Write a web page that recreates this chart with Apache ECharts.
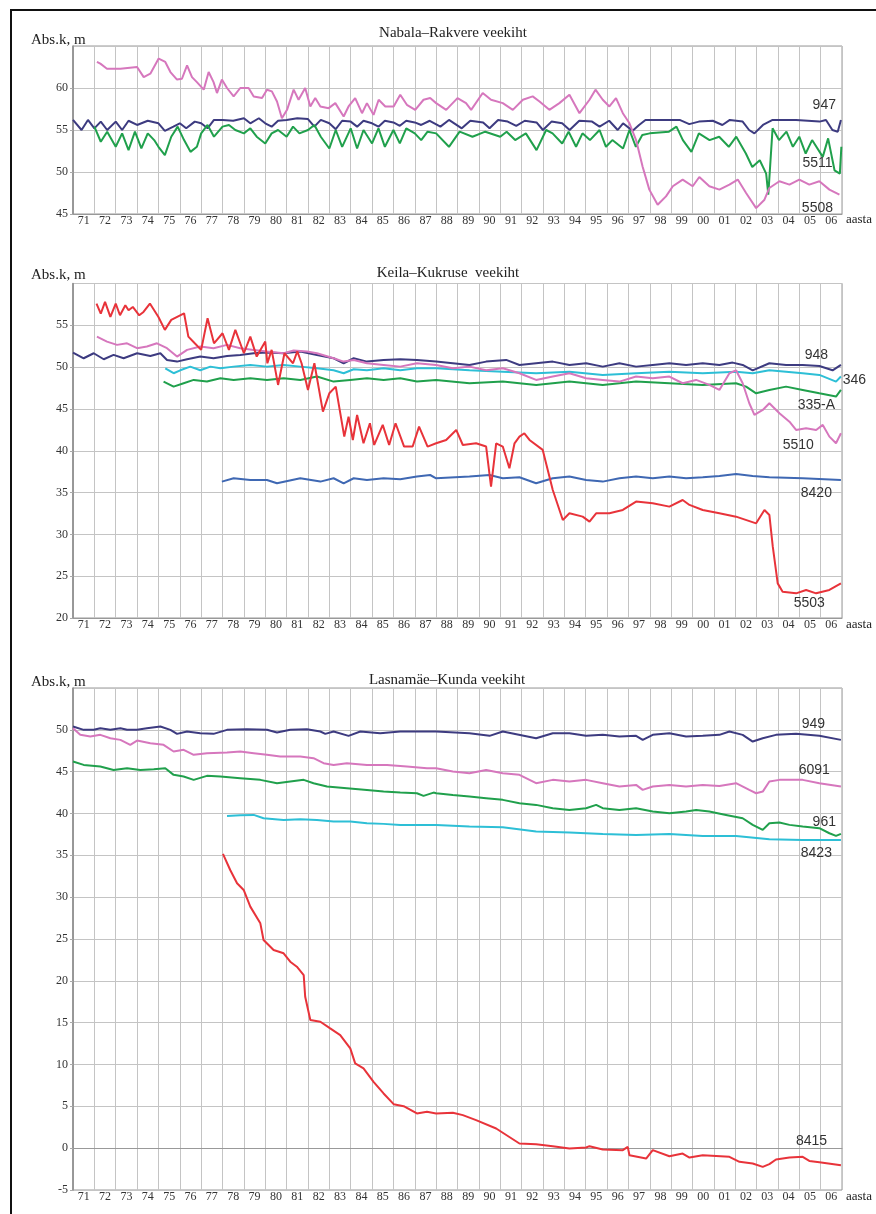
<!DOCTYPE html>
<html><head><meta charset="utf-8">
<script src="https://cdn.jsdelivr.net/npm/echarts@6/dist/echarts.min.js"></script>
<style>
html,body{margin:0;padding:0;background:#fff;overflow:hidden;}
#chart{position:absolute;left:0;top:0;width:876px;height:1214px;}
#frame{position:absolute;left:10px;top:9px;width:900px;height:1300px;border:2px solid #111;pointer-events:none;}
</style></head><body>
<div id="chart"></div><div id="frame"></div>
<script>
// ---------- tick labels ----------
const yearLabels = ['71','72','73','74','75','76','77','78','79','80','81','82','83','84','85','86','87','88','89','90','91','92','93','94','95','96','97','98','99','00','01','02','03','04','05','06'];
const titles = ['Nabala–Rakvere veekiht', 'Keila–Kukruse  veekiht', 'Lasnamäe–Kunda veekiht'];

// ---------- Panel 1: Nabala–Rakvere ----------
const s947 = [[1971.0,56.2],[1971.4,55.0],[1971.7,56.2],[1972.0,55.2],[1972.3,56.0],[1972.6,55.0],[1973.0,56.0],[1973.3,55.0],[1973.6,56.1],[1974.0,55.6],[1974.5,56.1],[1975.0,55.8],[1975.3,54.9],[1975.7,55.4],[1976.0,55.8],[1976.3,55.2],[1976.7,56.0],[1977.0,55.8],[1977.3,55.2],[1977.6,56.2],[1978.0,56.2],[1978.5,56.1],[1979.0,56.4],[1979.3,55.8],[1979.7,56.4],[1980.0,55.8],[1980.3,55.4],[1980.6,56.1],[1981.0,56.2],[1981.5,56.4],[1982.0,56.3],[1982.3,55.4],[1982.6,56.2],[1983.0,55.8],[1983.3,55.1],[1983.6,56.1],[1984.0,56.0],[1984.3,55.4],[1984.6,56.1],[1985.0,55.8],[1985.3,55.4],[1985.6,56.1],[1986.0,55.9],[1986.3,55.5],[1986.6,56.1],[1987.0,55.9],[1987.3,55.6],[1987.7,56.1],
[1988.2,55.4],[1988.6,56.2],[1989.2,55.2],[1989.6,56.1],[1990.2,55.9],[1990.5,55.2],[1990.9,56.2],[1991.35,56.0],[1991.75,55.5],[1992.15,56.1],[1992.7,55.9],[1993.0,55.0],[1993.4,56.0],[1993.9,55.8],[1994.25,55.0],[1994.7,56.1],[1995.3,56.0],[1995.65,55.4],[1996.1,56.1],[1996.5,55.0],[1996.75,55.8],[1997.2,54.9],[1997.5,55.6],[1997.8,56.2],[1998.9,56.2],[1999.4,56.2],[1999.85,55.7],[2000.3,56.0],[2000.95,56.1],[2001.4,55.6],[2001.75,56.2],[2002.35,56.0],[2002.65,55.0],[2002.9,54.6],[2003.3,55.6],[2003.75,56.2],[2004.85,56.2],[2005.95,56.0],[2006.25,56.2],[2006.55,55.0],[2006.8,54.8],[2006.95,56.2]];
const s5511 = [[1972.0,55.4],[1972.3,53.6],[1972.6,54.8],[1973.0,53.0],[1973.3,54.6],[1973.6,52.6],[1973.9,54.8],[1974.2,52.8],[1974.5,54.6],[1974.8,53.8],[1975.0,53.0],[1975.3,52.0],[1975.6,54.2],[1975.9,55.4],[1976.2,53.8],[1976.5,52.4],[1976.8,53.0],[1977.0,54.6],[1977.3,55.6],[1977.6,54.2],[1978.0,55.4],[1978.3,55.6],[1978.6,55.0],[1979.0,54.6],[1979.3,55.2],[1979.6,54.2],[1980.0,53.4],[1980.3,54.6],[1980.6,55.0],[1981.0,54.2],[1981.3,55.4],[1981.6,54.6],[1982.0,55.0],[1982.3,55.6],[1982.6,54.2],[1983.0,52.8],[1983.3,55.0],[1983.6,53.0],[1984.0,55.2],[1984.3,52.8],[1984.6,55.0],[1985.0,53.4],[1985.3,55.2],[1985.6,53.0],[1986.0,55.0],[1986.3,53.4],[1986.6,55.2],[1987.0,54.6],[1987.3,53.8],[1987.6,54.8],
[1988.0,54.6],[1988.6,53.0],[1989.1,54.8],[1989.7,54.2],[1990.3,54.8],[1991.0,54.2],[1991.3,54.8],[1991.7,53.8],[1992.2,54.6],[1992.7,52.6],[1993.15,55.0],[1993.45,54.6],[1993.9,53.4],[1994.2,54.8],[1994.55,53.0],[1994.85,54.6],[1995.2,53.8],[1995.65,55.0],[1995.95,53.0],[1996.25,53.8],[1996.75,52.8],[1997.05,55.0],[1997.35,53.0],[1997.65,54.4],[1998.0,54.6],[1998.9,54.8],[1999.25,55.4],[1999.55,53.8],[1999.95,52.4],[2000.3,54.6],[2000.8,53.8],[2001.25,54.2],[2001.7,53.0],[2002.05,54.2],[2002.5,52.2],[2002.8,50.6],[2003.15,51.4],[2003.45,49.8],[2003.55,47.3],[2003.75,55.2],[2004.05,53.8],[2004.4,54.8],[2004.7,53.0],[2005.0,54.2],[2005.3,52.2],[2005.6,53.8],[2006.1,51.8],[2006.35,54.0],[2006.65,50.2],[2006.9,49.8],[2006.97,53.0]];
const s5508 = [[1972.12,63.1],[1972.28,62.9],[1972.59,62.3],[1973.22,62.3],[1974.0,62.5],[1974.31,61.3],[1974.62,61.7],[1975.01,63.5],[1975.32,63.1],[1975.56,61.9],[1975.87,61.0],[1976.1,61.1],[1976.34,62.7],[1976.57,61.3],[1976.8,60.7],[1977.12,59.8],[1977.35,61.9],[1977.58,60.7],[1977.74,59.4],[1977.97,61.0],[1978.21,60.0],[1978.52,59.0],[1978.83,60.0],[1979.22,60.0],[1979.46,59.0],[1979.85,58.8],[1980.08,59.8],[1980.31,59.6],[1980.55,58.4],[1980.78,56.4],[1981.02,57.4],[1981.33,59.8],[1981.56,58.6],[1981.87,60.0],[1982.11,57.8],[1982.34,58.8],[1982.58,57.8],[1982.97,57.6],[1983.28,58.2],[1983.67,56.6],[1983.9,57.8],[1984.21,58.8],[1984.53,57.0],[1984.76,58.2],[1985.07,56.8],[1985.31,58.6],[1985.62,57.8],[1986.01,57.8],[1986.32,59.2],[1986.63,58.0],[1987.02,57.4],[1987.41,58.6],[1987.72,58.8],
[1988.0,58.2],[1988.47,57.4],[1989.0,58.8],[1989.4,58.2],[1989.64,57.4],[1990.18,59.4],[1990.57,58.6],[1991.12,58.2],[1991.59,57.4],[1992.06,58.6],[1992.52,59.0],[1992.84,58.4],[1993.3,57.4],[1993.77,58.2],[1994.24,59.2],[1994.71,57.0],[1995.18,58.6],[1995.46,59.8],[1995.8,58.6],[1996.11,57.8],[1996.42,58.8],[1996.74,57.0],[1997.05,55.8],[1997.36,53.8],[1997.67,50.6],[1997.98,47.9],[1998.37,46.1],[1998.76,47.1],[1999.08,48.3],[1999.54,49.1],[2000.01,48.3],[2000.32,49.4],[2000.79,48.3],[2001.26,47.9],[2001.73,48.5],[2002.12,49.1],[2002.51,47.5],[2002.98,45.7],[2003.37,46.7],[2003.6,48.1],[2004.07,48.9],[2004.54,48.5],[2005.0,49.1],[2005.47,48.5],[2005.94,48.9],[2006.41,47.9],[2006.88,47.3]];

// ---------- Panel 2: Keila–Kukruse ----------
const s948 = [[1971.0,51.74],[1971.5,51.06],[1971.97,51.66],[1972.44,50.94],[1972.9,51.46],[1973.37,51.06],[1974.0,51.66],[1974.62,51.34],[1975.09,51.66],[1975.4,50.86],[1975.87,50.66],[1976.34,50.94],[1976.96,51.26],[1977.58,51.06],[1978.21,51.34],[1978.83,51.46],[1979.46,51.66],[1980.08,51.74],[1980.86,51.66],[1981.64,51.86],[1982.42,51.46],[1983.2,51.06],[1983.67,50.46],[1984.14,51.06],[1984.76,50.66],[1985.54,50.86],[1986.32,50.94],[1987.1,50.86],[1988.0,50.66],[1988.78,50.46],[1989.56,50.26],[1990.34,50.66],[1991.28,50.86],[1991.9,50.26],[1992.68,50.46],[1993.46,50.66],[1994.24,50.26],[1995.02,50.46],[1995.8,50.06],[1996.58,50.46],[1997.36,50.06],[1998.14,50.26],[1998.92,50.46],[1999.7,50.26],[2000.48,50.46],[2001.26,50.26],[2001.88,50.54],[2002.35,50.26],[2002.82,49.62],[2003.6,50.46],[2004.38,50.26],[2005.16,50.26],[2005.94,50.14],[2006.56,49.62],[2006.95,50.26]];
const s346 = [[1975.32,49.86],[1975.71,49.27],[1976.02,49.62],[1976.49,50.06],[1976.96,49.62],[1977.43,50.06],[1977.9,49.86],[1978.52,50.06],[1979.3,50.26],[1980.08,50.06],[1980.86,50.26],[1981.64,50.06],[1982.42,49.86],[1983.2,49.62],[1983.67,49.27],[1984.14,49.74],[1984.76,49.62],[1985.54,49.86],[1986.32,49.62],[1987.1,49.86],[1988.0,49.86],[1989.56,49.62],[1991.12,49.46],[1992.68,49.27],[1994.24,49.46],[1995.8,49.07],[1997.36,49.27],[1998.92,49.46],[2000.48,49.27],[2002.04,49.46],[2002.82,49.27],[2003.6,49.62],[2005.16,49.27],[2005.94,49.07],[2006.72,48.27],[2006.95,48.87]];
const s335A = [[1975.24,48.27],[1975.71,47.67],[1976.18,48.07],[1976.65,48.47],[1977.27,48.27],[1977.9,48.67],[1978.52,48.47],[1979.3,48.67],[1980.08,48.47],[1980.86,48.67],[1981.64,48.47],[1982.42,48.87],[1983.2,48.27],[1983.98,48.47],[1984.76,48.67],[1985.54,48.47],[1986.32,48.67],[1987.1,48.27],[1988.0,48.47],[1989.56,48.07],[1991.12,48.27],[1992.68,47.87],[1994.24,48.27],[1995.8,47.87],[1997.36,48.27],[1998.92,48.07],[2000.48,47.87],[2002.04,48.07],[2002.51,47.67],[2002.98,46.87],[2003.6,47.27],[2004.38,47.67],[2005.16,47.27],[2005.94,46.87],[2006.72,46.48],[2006.95,47.27]];
const s5510 = [[1972.12,53.65],[1972.59,53.05],[1973.06,52.66],[1973.53,52.85],[1974.0,52.26],[1974.46,52.46],[1974.93,52.85],[1975.4,52.26],[1975.87,51.26],[1976.34,52.06],[1976.96,52.46],[1977.58,52.26],[1978.21,52.66],[1978.83,52.26],[1979.46,52.06],[1980.08,51.86],[1980.86,51.66],[1981.33,51.98],[1981.95,51.86],[1982.42,51.66],[1983.2,51.06],[1983.67,50.66],[1984.14,50.86],[1984.76,50.46],[1985.54,50.26],[1986.32,50.06],[1987.1,50.46],[1988.0,50.26],[1988.78,49.86],[1989.56,50.06],[1990.34,49.62],[1991.12,49.86],[1991.9,49.27],[1992.68,48.47],[1993.46,48.87],[1994.24,49.27],[1995.02,48.67],[1995.8,48.47],[1996.58,48.27],[1997.36,48.87],[1998.14,48.67],[1998.92,48.87],[1999.54,48.07],[2000.17,48.47],[2000.79,47.87],[2001.26,47.27],[2001.73,49.27],[2002.04,49.62],[2002.35,48.07],[2002.66,45.68],[2002.9,44.28],[2003.29,44.88],[2003.6,45.68],[2004.07,44.48],[2004.54,43.48],[2004.85,42.49],[2005.32,42.69],[2005.79,42.49],[2006.1,43.09],[2006.41,41.69],[2006.72,40.89],[2006.95,42.09]];
const s8420 = [[1977.97,36.31],[1978.52,36.71],[1979.3,36.51],[1980.08,36.51],[1980.55,36.11],[1981.64,36.71],[1982.58,36.31],[1983.2,36.71],[1983.67,36.11],[1984.14,36.71],[1984.76,36.51],[1985.54,36.71],[1986.32,36.59],[1987.1,36.91],[1987.72,37.1],[1988.0,36.71],[1989.56,36.91],[1990.5,37.1],[1991.12,36.71],[1991.9,36.83],[1992.68,36.11],[1993.46,36.71],[1994.24,36.91],[1995.02,36.51],[1995.8,36.31],[1996.58,36.71],[1997.36,36.91],[1998.14,36.71],[1998.92,36.91],[1999.7,36.71],[2000.48,36.83],[2001.26,36.99],[2002.04,37.22],[2002.82,36.99],[2003.6,36.83],[2005.16,36.71],[2006.95,36.51]];
const s5503 = [[1972.1,57.6],[1972.3,56.4],[1972.5,57.8],[1972.75,56.0],[1973.0,57.6],[1973.2,56.2],[1973.45,57.4],[1973.6,56.8],[1973.8,57.2],[1974.1,56.2],[1974.3,56.6],[1974.6,57.6],[1975.0,56.0],[1975.3,54.45],[1975.6,55.65],[1976.2,56.44],[1976.4,53.65],[1976.7,52.85],[1977.0,52.06],[1977.3,55.85],[1977.6,52.85],[1978.0,54.05],[1978.3,52.06],[1978.6,54.45],[1979.0,51.66],[1979.3,53.65],[1979.6,51.26],[1980.0,53.05],[1980.1,50.46],[1980.3,52.06],[1980.6,47.87],[1980.9,51.66],[1981.3,50.46],[1981.5,51.9],[1981.7,50.46],[1982.0,47.27],[1982.3,50.46],[1982.7,44.68],[1983.0,46.87],[1983.3,47.67],[1983.7,41.69],[1983.9,44.08],[1984.1,41.29],[1984.3,44.28],[1984.6,40.89],[1984.9,43.29],[1985.1,40.69],[1985.5,43.09],[1985.8,40.69],[1986.1,43.29],[1986.5,40.5],[1986.9,40.5],[1987.2,42.89],[1987.6,40.5],[1988.0,40.89],[1988.47,41.29],[1988.94,42.49],[1989.25,40.69],[1989.87,40.89],[1990.34,40.5],[1990.57,35.71],[1990.81,40.89],[1991.12,40.5],[1991.43,37.9],[1991.67,40.89],[1991.9,41.69],[1992.13,42.09],[1992.37,41.29],[1992.99,40.1],[1993.46,35.31],[1993.93,31.72],[1994.24,32.52],[1994.86,32.12],[1995.18,31.52],[1995.49,32.52],[1996.11,32.52],[1996.74,32.92],[1997.36,33.92],[1998.14,33.72],[1998.92,33.32],[1999.54,34.11],[1999.86,33.52],[2000.48,32.92],[2001.26,32.52],[2002.04,32.12],[2002.98,31.32],[2003.37,32.92],[2003.6,32.32],[2003.76,28.53],[2003.99,24.14],[2004.22,23.15],[2004.85,22.95],[2005.32,23.35],[2005.79,22.95],[2006.41,23.35],[2006.95,24.14]];

// ---------- Panel 3: Lasnamäe–Kunda ----------
const s949 = [[1971.0,50.4],[1971.5,50.0],[1971.97,50.0],[1972.28,50.2],[1972.75,50.0],[1973.22,50.2],[1973.53,50.0],[1974.0,50.0],[1974.46,50.2],[1975.09,50.4],[1975.56,50.0],[1975.87,49.52],[1976.34,49.8],[1976.96,49.6],[1977.58,49.52],[1978.21,50.0],[1979.14,50.08],[1980.08,50.0],[1980.55,49.68],[1981.17,50.0],[1981.95,50.08],[1982.58,49.8],[1982.81,49.52],[1983.2,49.8],[1983.9,49.28],[1984.45,49.8],[1985.38,49.6],[1986.32,49.8],[1987.26,49.8],[1988.0,49.8],[1989.56,49.6],[1990.5,49.28],[1991.12,49.8],[1992.68,49.0],[1993.46,49.6],[1994.24,49.6],[1995.02,49.28],[1995.8,49.4],[1996.58,49.2],[1997.36,49.28],[1997.67,48.8],[1998.14,49.4],[1998.92,49.6],[1999.7,49.2],[2000.48,49.28],[2001.26,49.4],[2001.73,49.8],[2002.35,49.4],[2002.82,48.6],[2003.29,49.0],[2003.91,49.4],[2004.85,49.52],[2005.94,49.28],[2006.95,48.8]];
const s6091 = [[1971.0,50.2],[1971.34,49.4],[1971.81,49.2],[1972.28,49.4],[1972.75,49.0],[1973.22,48.8],[1973.68,48.21],[1974.0,48.72],[1974.62,48.4],[1975.24,48.21],[1975.71,47.41],[1976.18,47.61],[1976.65,47.01],[1977.27,47.21],[1978.21,47.29],[1978.83,47.41],[1979.46,47.21],[1980.08,47.01],[1980.7,46.81],[1981.64,46.81],[1982.26,46.61],[1982.73,46.01],[1983.2,45.81],[1983.82,46.01],[1984.76,45.81],[1985.7,45.81],[1986.63,45.61],[1987.57,45.41],[1988.0,45.41],[1988.78,45.02],[1989.56,44.82],[1990.34,45.21],[1991.12,44.82],[1991.9,44.62],[1992.68,43.62],[1993.46,44.02],[1994.24,43.82],[1995.02,44.02],[1995.8,43.62],[1996.58,43.22],[1997.36,43.42],[1997.67,42.82],[1998.14,43.22],[1998.92,43.42],[1999.7,43.22],[2000.48,43.42],[2001.26,43.3],[2002.04,43.62],[2002.66,42.82],[2002.98,42.42],[2003.29,42.62],[2003.6,43.82],[2004.07,44.02],[2005.16,44.02],[2005.94,43.62],[2006.95,43.22]];
const s961 = [[1971.0,46.21],[1971.5,45.81],[1972.28,45.61],[1972.9,45.21],[1973.53,45.41],[1974.15,45.21],[1974.78,45.29],[1975.32,45.41],[1975.71,44.62],[1976.18,44.42],[1976.65,44.02],[1977.27,44.5],[1977.9,44.42],[1978.83,44.22],[1979.77,44.02],[1980.55,43.62],[1981.17,43.82],[1981.8,44.02],[1982.26,43.62],[1982.89,43.22],[1983.82,43.02],[1984.76,42.82],[1985.54,42.62],[1986.32,42.5],[1987.1,42.42],[1987.41,42.11],[1987.88,42.5],[1988.0,42.42],[1988.78,42.22],[1989.56,42.03],[1990.34,41.83],[1991.12,41.63],[1991.9,41.23],[1992.68,41.03],[1993.46,40.63],[1994.24,40.43],[1995.02,40.63],[1995.49,41.03],[1995.8,40.63],[1996.58,40.43],[1997.36,40.63],[1998.14,40.23],[1998.92,40.03],[1999.7,40.23],[2000.17,40.43],[2000.79,40.23],[2001.57,39.83],[2002.35,39.43],[2002.82,38.64],[2003.29,38.04],[2003.6,38.84],[2004.07,38.92],[2004.54,38.64],[2005.16,38.44],[2005.94,38.24],[2006.41,37.64],[2006.72,37.32],[2006.95,37.56]];
const s8423 = [[1978.21,39.71],[1978.83,39.79],[1979.46,39.83],[1979.92,39.43],[1980.86,39.23],[1981.64,39.31],[1982.42,39.23],[1983.2,39.03],[1983.98,39.03],[1984.76,38.84],[1985.54,38.76],[1986.32,38.64],[1987.1,38.64],[1988.0,38.64],[1989.56,38.44],[1991.12,38.36],[1992.68,37.84],[1994.24,37.72],[1995.8,37.56],[1997.36,37.44],[1998.92,37.56],[2000.48,37.32],[2002.04,37.32],[2003.6,36.92],[2005.16,36.84],[2006.95,36.84]];
const s8415 = [[1978.02,35.17],[1978.36,33.25],[1978.68,31.66],[1978.99,30.86],[1979.3,28.87],[1979.77,26.87],[1979.92,24.88],[1980.39,23.68],[1980.86,23.29],[1981.17,22.29],[1981.48,21.69],[1981.8,20.69],[1981.87,18.1],[1982.11,15.31],[1982.58,15.11],[1983.04,14.31],[1983.51,13.52],[1983.98,11.92],[1984.21,10.13],[1984.6,9.53],[1985.07,7.93],[1985.54,6.54],[1986.01,5.26],[1986.48,5.02],[1987.1,4.15],[1987.57,4.35],[1988.0,4.15],[1988.78,4.23],[1989.25,3.95],[1989.87,3.35],[1990.81,2.35],[1991.9,0.56],[1992.68,0.48],[1993.46,0.24],[1994.24,-0.04],[1995.02,0.08],[1995.18,0.24],[1995.8,-0.16],[1996.74,-0.24],[1996.97,0.16],[1997.05,-0.84],[1997.83,-1.24],[1998.14,-0.24],[1998.92,-0.96],[1999.54,-0.64],[1999.86,-1.12],[2000.48,-0.84],[2001.73,-1.04],[2002.2,-1.63],[2002.82,-1.83],[2003.29,-2.23],[2003.6,-1.91],[2003.91,-1.36],[2004.54,-1.12],[2005.16,-1.04],[2005.47,-1.52],[2005.94,-1.67],[2006.95,-2.03]];

// ---------- series labels (text, series name, year, level) ----------
const seriesLabels = [
  ['947','947',2006.17,57.98],['5511','5511',2005.85,51.07],['5508','5508',2005.85,45.71],
  ['948','948',2005.8,51.46],['346','346',2007.58,48.47],['335-A','335-A',2005.8,45.48],['5510','5510',2004.95,40.69],['8420','8420',2005.8,34.95],['5503','5503',2005.47,21.79],
  ['949','949',2005.66,50.72],['6091','6091',2005.7,45.22],['961','961',2006.17,39.0],['8423','8423',2005.8,35.29],['8415','8415',2005.57,0.84]
];

const C = {navy:'#3d3b80', pink:'#d677bd', green:'#20a04c', cyan:'#2dbfd6', red:'#e8333a', blue:'#3f68b3'};
const SERIF = '"Liberation Serif","DejaVu Serif",serif';
const SANS = '"Liberation Sans",Arial,sans-serif';

const grids = [
  {left:73, top:46, width:769, height:168},
  {left:73, top:283.5, width:769, height:334.5},
  {left:73, top:688, width:769, height:502}
];
const yRanges = [[45,65],[20,60],[-5,55]];

const xAxes = [], yAxes = [];
grids.forEach((g, i) => {
  xAxes.push({type:'value', gridIndex:i, min:1971, max:2007, interval:1,
    axisLine:{show:true, lineStyle:{color:'#999'}}, axisTick:{show:false}, axisLabel:{show:false},
    splitLine:{show:true, lineStyle:{color:'#c4c4c4', width:1}}});
  xAxes.push({type:'category', gridIndex:i, position:'bottom', data:yearLabels, boundaryGap:true,
    axisLine:{show:false}, axisTick:{show:false}, splitLine:{show:false},
    axisLabel:{interval:0, margin:1, fontFamily:SERIF, fontSize:12, color:'#333'}});
  yAxes.push({type:'value', gridIndex:i, min:yRanges[i][0], max:yRanges[i][1], interval:5,
    axisLine:{show:true, lineStyle:{color:'#888', width:1.5}},
    axisTick:{show:true, length:3, lineStyle:{color:'#aaa'}},
    axisLabel:{showMaxLabel:false, margin:5, fontFamily:SERIF, fontSize:12, color:'#333'},
    splitLine:{show:true, lineStyle:{color:'#c4c4c4', width:1}}});
});

function mk(name, data, color, panel, w){
  return {name, type:'line', data, xAxisIndex:panel*2, yAxisIndex:panel, showSymbol:false,
    symbol:'none', lineStyle:{color, width:w||2}, itemStyle:{color}, silent:true, z:3};
}
const series = [
  mk('947', s947, C.navy, 0), mk('5511', s5511, C.green, 0), mk('5508', s5508, C.pink, 0),
  mk('948', s948, C.navy, 1), mk('346', s346, C.cyan, 1), mk('335-A', s335A, C.green, 1),
  mk('5510', s5510, C.pink, 1), mk('8420', s8420, C.blue, 1), mk('5503', s5503, C.red, 1),
  mk('949', s949, C.navy, 2), mk('6091', s6091, C.pink, 2), mk('961', s961, C.green, 2),
  mk('8423', s8423, C.cyan, 2), mk('8415', s8415, C.red, 2)
];

const chart = echarts.init(document.getElementById('chart'), null, {renderer:'canvas'});
const staticText = [];
const titleX = [453, 448, 447], titleY = [33, 273, 680];
const absY = [40, 275, 682], aastaY = [220, 625, 1197];
for (let i = 0; i < 3; i++) {
  staticText.push({type:'text', left:null, x:titleX[i], y:titleY[i], style:{text:titles[i], font:'15px '+SERIF, fill:'#222', textAlign:'center', textVerticalAlign:'middle'}});
  staticText.push({type:'text', x:31, y:absY[i], style:{text:'Abs.k, m', font:'15px '+SERIF, fill:'#222', textAlign:'left', textVerticalAlign:'middle'}});
  staticText.push({type:'text', x:846, y:aastaY[i], style:{text:'aasta', font:'13px '+SERIF, fill:'#222', textAlign:'left', textVerticalAlign:'middle'}});
}
chart.setOption({
  animation:false, backgroundColor:'#fff',
  grid: grids.map(g => Object.assign({show:true, borderColor:'#999', borderWidth:1, backgroundColor:'transparent'}, g)),
  xAxis: xAxes, yAxis: yAxes, series: series,
  graphic: staticText
});
const names = series.map(s => s.name);
const lab = seriesLabels.map(l => {
  const p = chart.convertToPixel({seriesIndex: names.indexOf(l[1])}, [l[2], l[3]]);
  return {type:'text', x:p[0], y:p[1], z:10, style:{text:l[0], font:'14px '+SANS, fill:'#333', textAlign:'center', textVerticalAlign:'middle'}};
});
chart.setOption({graphic: staticText.concat(lab)});
</script></body></html>
